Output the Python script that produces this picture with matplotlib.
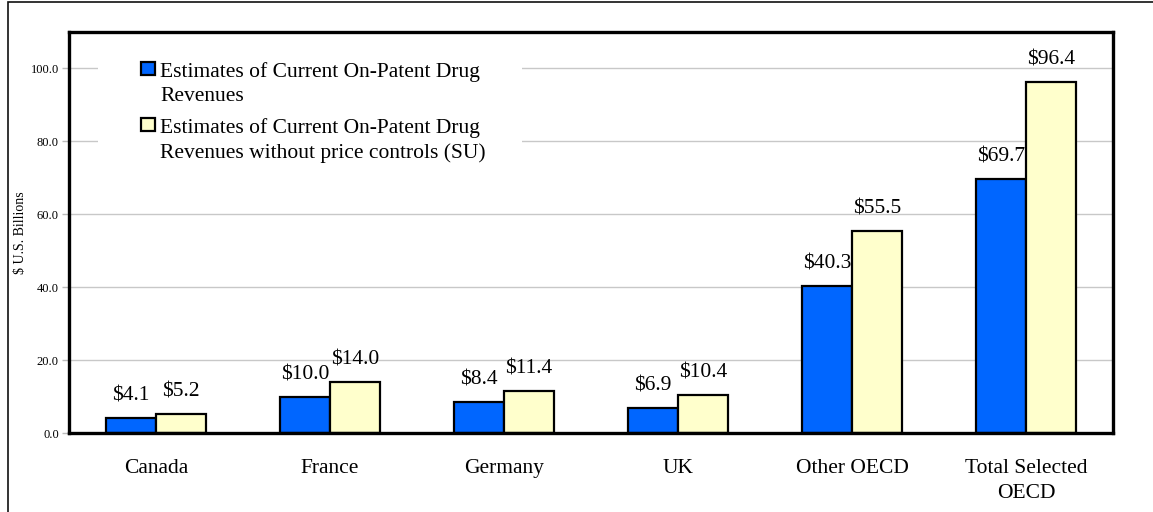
import matplotlib
matplotlib.use("Agg")
import matplotlib.pyplot as plt
import numpy as np
from matplotlib.patches import Rectangle

categories = ["Canada", "France", "Germany", "UK", "Other OECD", "Total Selected\nOECD"]
current = [4.1, 10.0, 8.4, 6.9, 40.3, 69.7]
no_controls = [5.2, 14.0, 11.4, 10.4, 55.5, 96.4]
series_names = ["Estimates of Current On-Patent Drug\nRevenues",
                "Estimates of Current On-Patent Drug\nRevenues without price controls (SU)"]
series_colors = ['#0066FF', '#FFFFCC']
yticks = [0, 20, 40, 60, 80, 100]

plt.rcParams['font.family'] = ['Liberation Serif', 'DejaVu Serif']
FS = 15.5
LS = 1.38

fig = plt.figure(figsize=(11.53, 5.12), dpi=100)
W, H = 1153, 512
AX_L, AX_R, AX_T, AX_B = 69, 1113, 32, 433
ax = fig.add_axes([AX_L / W, 1 - AX_B / H, (AX_R - AX_L) / W, (AX_B - AX_T) / H])


def axp(px, py):
    """pixel position -> axes fraction"""
    return (px - AX_L) / (AX_R - AX_L), (AX_B - py) / (AX_B - AX_T)


# outer border (left and top visible)
fig.patches.append(Rectangle((8 / W, -0.5), 2.0, 0.5 + (1 - 2 / H), transform=fig.transFigure,
                             fill=False, edgecolor='#111111', linewidth=1.2))

x = np.arange(len(categories))
w = 50 / 174
b1 = ax.bar(x - w / 2, current, w, color=series_colors[0], edgecolor='black', linewidth=1.6, zorder=2)
b2 = ax.bar(x + w / 2, no_controls, w, color=series_colors[1], edgecolor='black', linewidth=1.6, zorder=2)

for bars, vals in ((b1, current), (b2, no_controls)):
    for r, v in zip(bars, vals):
        ax.annotate(f"${v:.1f}", (r.get_x() + r.get_width() / 2, v), xytext=(0, 9),
                    textcoords='offset points', ha='center', va='bottom', fontsize=FS)

ax.set_xlim(-0.5, len(categories) - 0.5)
ax.set_ylim(0, 110)
ax.set_yticks(yticks)
ax.set_yticklabels([f"{t:.1f}" for t in yticks], fontsize=9)
ax.set_xticks(x)
ax.set_xticklabels(categories, fontsize=FS, linespacing=LS)
ax.tick_params(axis='x', length=0, pad=19)
ax.tick_params(axis='y', length=5.3, width=1, color='#BBBBBB', pad=2)
for t in yticks[1:]:
    ax.axhline(t, color='#C8C8C8', linewidth=1, zorder=0.5)

for s in ax.spines.values():
    s.set_linewidth(2.4)
    s.set_color('black')

ax.set_ylabel("$ U.S. Billions", fontsize=10)
ax.yaxis.set_label_coords(axp(21, 0)[0], 0.5)
ax.yaxis.label.set_va('center')

# legend (white box, square markers aligned with first line of each label)
bx0, by0 = axp(98, 190)
bx1, by1 = axp(522, 40)
ax.add_patch(Rectangle((bx0, by0), bx1 - bx0, by1 - by0, transform=ax.transAxes,
                       facecolor='white', edgecolor='none', zorder=2.4))
entry_baselines = [77, 133]
for name, col, base in zip(series_names, series_colors, entry_baselines):
    hx0, hy0 = axp(141, base - 2)
    hx1, hy1 = axp(155, base - 15)
    ax.add_patch(Rectangle((hx0, hy0), hx1 - hx0, hy1 - hy0, transform=ax.transAxes,
                           facecolor=col, edgecolor='black', linewidth=1.6, zorder=2.45))
    tx, ty = axp(160, base - 15)
    ax.text(tx, ty, name, transform=ax.transAxes, ha='left', va='top',
            fontsize=FS, linespacing=LS, zorder=2.5)

fig.savefig("out.png", dpi=100)
